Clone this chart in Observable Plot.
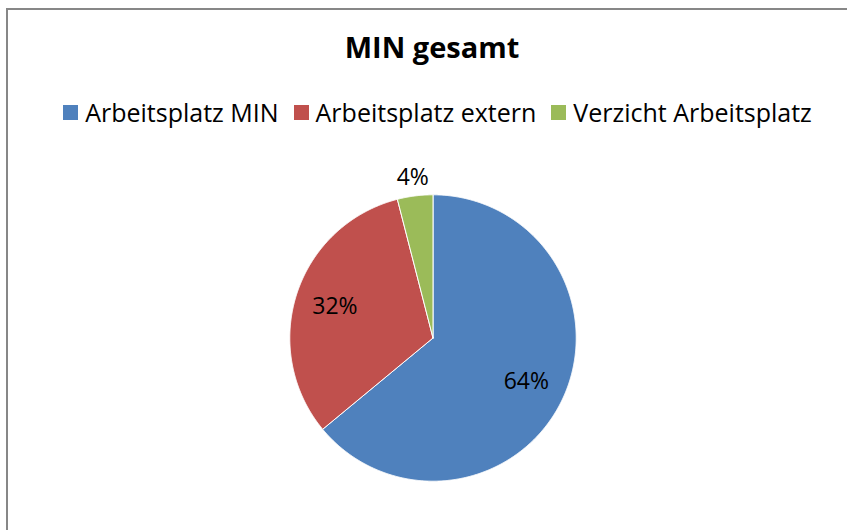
<!DOCTYPE html>
<html>
<head>
<meta charset="utf-8">
<script src="https://cdn.jsdelivr.net/npm/d3@7"></script>
<script src="https://cdn.jsdelivr.net/npm/@observablehq/plot@0.6"></script>
<style>
  html, body { margin: 0; padding: 0; background: #fff; }
  body { width: 847px; height: 530px; position: relative; overflow: hidden; font-family: "Open Sans", sans-serif; }
  #frame { position: absolute; left: 6px; top: 8px; width: 900px; height: 600px; border: 2px solid #878787; box-sizing: border-box; }
  #title { position: absolute; left: 0; width: 864px; top: 27px; text-align: center; font-weight: bold; font-size: 29px; line-height: 40px; color: #000; }
  #legend { position: absolute; left: 0; width: 890px; top: 95px; display: flex; justify-content: center; align-items: center; font-size: 25px; line-height: 34px; color: #000; }
  #legend .item { display: flex; align-items: center; margin-right: 15px; }
  #legend .sw { width: 15px; height: 15px; margin-right: 7px; }
  #chart { position: absolute; left: 0; top: 150px; }
</style>
</head>
<body>
<div id="frame"></div>
<div id="title">MIN gesamt</div>
<div id="legend"></div>
<div id="chart"></div>
<script>
const categories = ["Arbeitsplatz MIN", "Arbeitsplatz extern", "Verzicht Arbeitsplatz"];
const values = [64, 32, 4];
const colors = ["#4F81BD", "#C0504D", "#9BBB59"];
const labels = ["64%", "32%", "4%"];

// legend
const leg = document.getElementById("legend");
categories.forEach((c, i) => {
  const it = document.createElement("div");
  it.className = "item";
  const sw = document.createElement("div");
  sw.className = "sw";
  sw.style.background = colors[i];
  const tx = document.createElement("span");
  tx.textContent = c;
  it.appendChild(sw); it.appendChild(tx);
  leg.appendChild(it);
});

// pie geometry from data
const W = 847, H = 380, R = 143.2, cx = 432.5, cy = 187.5;
const pie = d3.pie().sort(null).value(d => d.value);
const table = categories.map((c, i) => ({category: c, value: values[i], color: colors[i], label: labels[i]}));
const arcs = pie(table);

const polys = [];
arcs.forEach(a => {
  const n = Math.max(2, Math.ceil((a.endAngle - a.startAngle) / 0.005));
  polys.push({category: a.data.category, x: 0, y: 0});
  for (let k = 0; k <= n; k++) {
    const t = a.startAngle + (a.endAngle - a.startAngle) * k / n;
    polys.push({category: a.data.category, x: Math.sin(t), y: Math.cos(t)});
  }
  polys.push({category: a.data.category, x: 0, y: 0});
});

const total = d3.sum(values);
const labelPts = arcs.map(a => {
  const mid = (a.startAngle + a.endAngle) / 2;
  const share = a.data.value / total;
  const rho = share < 0.1 ? 1.13 : 0.72;
  return {x: rho * Math.sin(mid), y: rho * Math.cos(mid), label: a.data.label};
});

const marks = arcs.map(a => Plot.line(polys.filter(p => p.category === a.data.category), {
  x: "x", y: "y", fill: a.data.color, stroke: "#fff", strokeWidth: 1, curve: "linear"
}));
marks.push(Plot.text(labelPts, {x: "x", y: "y", text: "label", fontSize: 23, fill: "#000", fontFamily: "Open Sans"}));

const plot = Plot.plot({
  width: W, height: H,
  margin: 0,
  x: {domain: [-cx / R, (W - cx) / R], axis: null},
  y: {domain: [-(H - cy) / R, cy / R], axis: null},
  marks
});
document.getElementById("chart").appendChild(plot);
</script>
</body>
</html>
